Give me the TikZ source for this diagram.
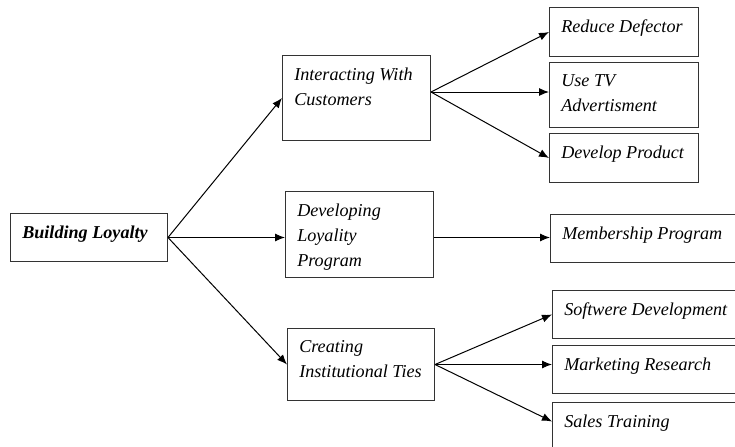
\documentclass[tikz,border=0pt]{standalone}
\usepackage{fontspec}
\setmainfont{Liberation Serif}
\usetikzlibrary{arrows.meta}

\tikzset{
	box/.style 2 args={draw=black!80, line width=0.75pt, anchor=north west, inner sep=0pt,
		minimum width=#1*0.75pt, minimum height=#2*0.75pt},
	txt/.style={anchor=north west, align=left, inner sep=0pt,
		execute at begin node={\rule{0pt}{9.5pt}},
		font=\fontsize{13.6}{18.75}\selectfont\itshape, xshift=9pt, yshift=-9.25pt},
	arr/.style={-{Latex[length=7.5pt,width=6pt]}, line width=0.75pt}
}

\begin{document}
\begin{tikzpicture}[x=0.75pt, y=-0.75pt]
	\useasboundingbox (0,0) rectangle (735,446);

	\node[box={157}{48}, label={[txt, font=\fontsize{13.6}{18.75}\selectfont\bfseries\itshape]north west:Building Loyalty}] (loyalty) at (10,213) {};

	\node[box={148}{85}, label={[txt]north west:{Interacting With\\Customers}}] (interact) at (282,55) {};
	\node[box={148}{86}, label={[txt]north west:{Developing\\Loyality\\Program}}] (program) at (285,191) {};
	\node[box={147}{72}, label={[txt]north west:{Creating\\Institutional Ties}}] (ties) at (287,328) {};

	\node[box={149}{49}, label={[txt]north west:Reduce Defector}] (defector) at (549,7) {};
	\node[box={149}{65}, label={[txt]north west:{Use TV\\Advertisment}}] (tv) at (549,62) {};
	\node[box={149}{49}, label={[txt]north west:Develop Product}] (product) at (549,133) {};

	\node[box={200}{48}, label={[txt]north west:Membership Program}] (member) at (550,214) {};

	\node[box={200}{48}, label={[txt]north west:Softwere Development}] (software) at (552,290) {};
	\node[box={200}{48}, label={[txt]north west:Marketing Research}] (research) at (552,345) {};
	\node[box={200}{50}, label={[txt]north west:Sales Training}] (sales) at (552,402) {};

	\coordinate (fork) at ([yshift=4.5pt]interact.east);

	\draw[arr] (loyalty.east) -- (interact.west);
	\draw[arr] (loyalty.east) -- (loyalty.east -| program.west);
	\draw[arr] (loyalty.east) -- (ties.west);

	\draw[arr] (fork) -- (defector.west);
	\draw[arr] (fork) -- (fork -| tv.west);
	\draw[arr] (fork) -- (product.west);

	\draw[arr] (loyalty.east -| program.east) -- (loyalty.east -| member.west);

	\draw[arr] (ties.east) -- (software.west);
	\draw[arr] (ties.east) -- (ties.east -| research.west);
	\draw[arr] (ties.east) -- ([yshift=4.5pt]sales.west);
\end{tikzpicture}
\end{document}
